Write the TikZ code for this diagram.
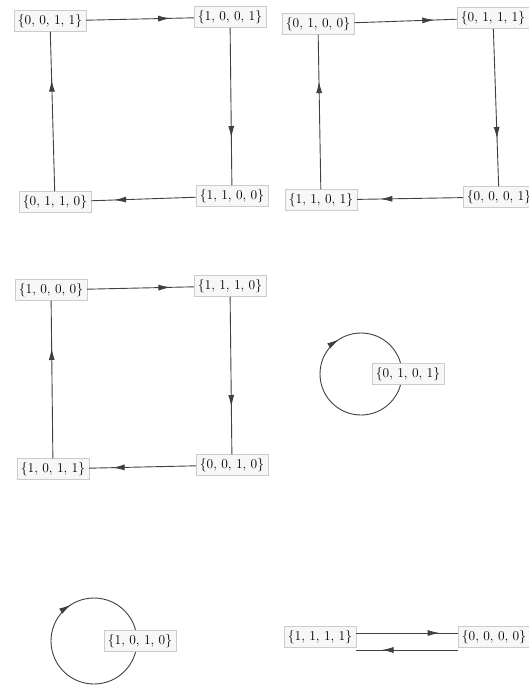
\documentclass[tikz,border=0pt]{standalone}
\usepackage{tikz}
\usetikzlibrary{arrows.meta,decorations.markings}

\begin{document}
\begin{tikzpicture}[
  x=1pt, y=-1pt,
  font=\fontsize{13.5}{15}\selectfont,
  st/.style={draw=black!20, fill=black!3, inner sep=3.8pt, text=black},
  arr/.style={draw=black!75, line width=0.9pt, postaction={decorate},
    decoration={markings, mark=at position #1 with {\arrow{Latex[length=12pt,width=6pt]}}}},
  arr/.default=0.78
]
\clip (0,0) rectangle (529,688);

% --- first cycle ---
\node[st] (n0011) at (50,21)  {\{0, 0, 1, 1\}};
\node[st] (n1001) at (230,17) {\{1, 0, 0, 1\}};
\node[st] (n1100) at (232,196) {\{1, 1, 0, 0\}};
\node[st] (n0110) at (55,202) {\{0, 1, 1, 0\}};

\draw[arr] (n0011) -- (n1001);
\draw[arr=0.7] (n1001) -- (n1100);
\draw[arr] (n1100) -- (n0110);
\draw[arr=0.7] (n0110) -- (n0011);

% --- second cycle ---
\node[st] (n0100) at (318,24) {\{0, 1, 0, 0\}};
\node[st] (n0111) at (493,18) {\{0, 1, 1, 1\}};
\node[st] (n0001) at (499,197) {\{0, 0, 0, 1\}};
\node[st] (n1101) at (321,200) {\{1, 1, 0, 1\}};

\draw[arr] (n0100) -- (n0111);
\draw[arr=0.7] (n0111) -- (n0001);
\draw[arr] (n0001) -- (n1101);
\draw[arr=0.7] (n1101) -- (n0100);

% --- third cycle ---
\node[st] (n1000) at (51,290)  {\{1, 0, 0, 0\}};
\node[st] (n1110) at (230,286) {\{1, 1, 1, 0\}};
\node[st] (n0010) at (232,465) {\{0, 0, 1, 0\}};
\node[st] (n1011) at (53,469)  {\{1, 0, 1, 1\}};

\draw[arr] (n1000) -- (n1110);
\draw[arr=0.7] (n1110) -- (n0010);
\draw[arr] (n0010) -- (n1011);
\draw[arr=0.7] (n1011) -- (n1000);

% --- fixed points ---
\coordinate (c0101) at (361,374);
\draw[arr=0.66] (c0101) ++(41,0) arc[start angle=0, end angle=360, radius=41];
\node[st] (n0101) at ([xshift=47pt]c0101) {\{0, 1, 0, 1\}};

\coordinate (c1010) at (94,641);
\draw[arr=0.66] (c1010) ++(43,0) arc[start angle=0, end angle=360, radius=43];
\node[st] (n1010) at ([xshift=46pt]c1010) {\{1, 0, 1, 0\}};

% --- two-cycle ---
\node[st] (n1111) at (320,637) {\{1, 1, 1, 1\}};
\node[st] (n0000) at (494,637) {\{0, 0, 0, 0\}};

\draw[arr=0.82] ([yshift=4pt]n1111.east) -- ([yshift=4pt]n0000.west);
\draw[arr=0.75] ([yshift=-13pt]n0000.west) -- ([yshift=-13pt]n1111.east);

\end{tikzpicture}
\end{document}
